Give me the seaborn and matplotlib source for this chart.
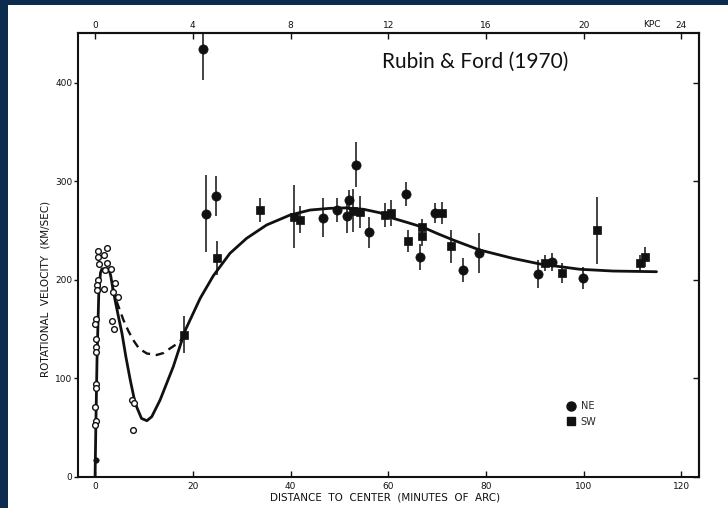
import matplotlib
matplotlib.use("Agg")
import matplotlib.pyplot as plt
import numpy as np
import pandas as pd
import seaborn as sns
from matplotlib.patches import Rectangle
from matplotlib.lines import Line2D

# ---------------- data ----------------
# NE side (filled circles): distance (arcmin), velocity (km/s), error
ne_x = [22.1, 22.7, 24.7, 46.7, 49.6, 51.5, 52.0, 53.5, 56.1, 63.6, 66.6, 69.6,
        75.3, 78.6, 90.7, 93.5, 99.9]
ne_y = [434, 267, 285, 263, 271, 265, 281, 317, 248, 287, 223, 268,
        210, 227, 206, 218, 202]
ne_err = [31, 39, 20, 20, 12, 18, 10, 23, 16, 12, 13, 10,
          12, 20, 14, 9, 11]

# SW side (filled squares)
sw_x = [18.2, 24.9, 33.7, 40.8, 42.0, 52.7, 54.2, 59.4, 60.6, 64.0, 66.9, 66.9,
        71.1, 72.9, 92.0, 95.6, 102.7, 111.5, 112.5]
sw_y = [144, 222, 271, 264, 261, 270, 269, 266, 268, 239, 254, 244,
        268, 234, 217, 207, 250, 217, 223]
sw_err = [19, 17, 12, 32, 14, 22, 16, 12, 13, 11, 8, 10,
          11, 17, 8, 10, 34, 8, 10]

# inner region (open circles)
in_x = [0.5, 2.4, 0.5, 1.8, 0.7, 2.5, 0.5, 0.3, 0.3, 1.9, 2.0, 3.3, 4.1, 3.7,
        4.6, 3.5, 3.9, 0.2, 0.0, 0.2, 0.1, 0.1, 0.1, 0.1, -0.1, 0.2, -0.1,
        7.6, 8.0, 7.7]
in_y = [229.5, 232, 223, 225, 216, 217, 200, 194.6, 189.5, 191, 210, 210.5,
        196.6, 187.8, 182.7, 158, 149.6, 160, 154.5, 139.7, 132, 127, 94, 90,
        71, 56.5, 52.8, 78, 75, 47.3]

# nucleus point (small filled dot)
nuc_x = [0.1]
nuc_y = [17]

# model rotation curve (solid)
solid_x = [0.0, 0.15, 0.4, 0.75, 1.1, 1.4, 2.8, 3.2, 3.6, 4.1, 4.8, 5.5, 6.3,
           7.2, 8.2, 9.5, 10.6, 11.6, 13.3, 16.0, 18.4, 21.5, 24.2, 27.6,
           31.0, 35.1, 39.9, 44.0, 48.0, 51.5, 55.0, 58.3, 61.0, 64.0, 67.1,
           70.0, 73.3, 78.7, 85.5, 91.0, 99.2, 106.0, 114.9]
solid_y = [0, 50, 120, 185, 207, 211, 211, 204, 192, 179, 162, 145.5, 121.7,
           98, 74.4, 59, 56.7, 60.8, 77.7, 111.6, 148, 181, 204, 226.8,
           242, 255.6, 265.7, 270.8, 272.5, 273, 271.5, 268, 262.4, 258, 253.3,
           247, 240.3, 230.2, 221.7, 216, 210.6, 208.8, 208.1]

# alternative inner curve (dashed)
dash_x = [3.6, 4.4, 5.0, 5.8, 6.8, 7.8, 9.0, 10.6, 12.6, 14.0, 15.3, 16.5,
          17.7, 18.4]
dash_y = [192, 178, 170, 159, 148, 138.7, 130, 125, 123.5, 125.5, 130, 134,
          139, 146]

x_ticks = [0, 20, 40, 60, 80, 100, 120]
y_ticks = [0, 100, 200, 300, 400]
kpc_ticks = [0, 4, 8, 12, 16, 20, 24]

# ---------------- figure ----------------
sns.set_theme(style="white")
plt.rcParams['font.family'] = ['DejaVu Sans']

W, H = 728, 508
fig = plt.figure(figsize=(W / 100, H / 100), dpi=100)
fig.patch.set_facecolor('#0c2b4e')
fig.add_artist(Rectangle((8 / W, 0), 1, 1 - 5 / H, transform=fig.transFigure,
                         facecolor='white', edgecolor='none', zorder=0))

ax_l, ax_r, ax_t, ax_b = 77.5, 698.5, 33, 476.5
ax = fig.add_axes([ax_l / W, 1 - ax_b / H, (ax_r - ax_l) / W, (ax_b - ax_t) / H])
ax.set_zorder(1)
ax.set_facecolor('none')

ink = '#111111'

# curves
sns.lineplot(x=solid_x, y=solid_y, sort=False, estimator=None, color=ink,
             lw=2.0, ax=ax, zorder=2)
sns.lineplot(x=dash_x, y=dash_y, sort=False, estimator=None, color=ink,
             lw=1.7, ax=ax, zorder=2)
ax.lines[-1].set_linestyle((0, (3.6, 2.4)))

# error bars
ax.errorbar(ne_x, ne_y, yerr=ne_err, fmt='none', ecolor=ink, elinewidth=1.1,
            capsize=0, zorder=3)
ax.errorbar(sw_x, sw_y, yerr=sw_err, fmt='none', ecolor=ink, elinewidth=1.1,
            capsize=0, zorder=3)

# markers
sns.scatterplot(x=ne_x, y=ne_y, marker='o', s=44, color=ink, edgecolor=ink,
                linewidth=0.5, ax=ax, zorder=4)
sns.scatterplot(x=sw_x, y=sw_y, marker='s', s=36, color=ink, edgecolor=ink,
                linewidth=0.5, ax=ax, zorder=4)
sns.scatterplot(x=in_x, y=in_y, marker='o', s=17, facecolor='white',
                edgecolor=ink, linewidth=1.0, ax=ax, zorder=4)
sns.scatterplot(x=nuc_x, y=nuc_y, marker='o', s=16, color=ink, edgecolor=ink,
                ax=ax, zorder=4)

ax.set_xlim(-3.6, 123.5)
ax.set_ylim(0, 450.7)
ax.set_xlabel('')
ax.set_ylabel('')

for s in ax.spines.values():
    s.set_visible(True)
    s.set_color(ink)
    s.set_linewidth(1.5)

ax.set_xticks(x_ticks)
ax.set_xticklabels([str(v) for v in x_ticks])
ax.set_yticks(y_ticks)
ax.set_yticklabels([str(v) for v in y_ticks])
ax.tick_params(axis='x', bottom=True, direction='in', length=4, width=1,
               pad=4, labelsize=6.5, colors=ink)
ax.tick_params(axis='y', left=True, direction='out', length=3, width=1,
               pad=0.8, labelsize=6.5, colors=ink)

# right inward ticks
secy = ax.secondary_yaxis('right')
secy.set_yticks(y_ticks)
secy.tick_params(direction='in', length=4, width=1, labelright=False, colors=ink)
secy.spines['right'].set_linewidth(1.5)

# top kpc axis
secx = ax.secondary_xaxis('top', functions=(lambda m: np.asarray(m) / 5.0,
                                            lambda k: np.asarray(k) * 5.0))
secx.set_xticks(kpc_ticks)
secx.set_xticklabels([str(v) for v in kpc_ticks])
secx.tick_params(direction='in', length=4, width=1, pad=2.5, labelsize=6.5,
                 colors=ink)
secx.spines['top'].set_linewidth(1.5)
ax.text(114.0, 1.008, 'KPC', transform=ax.get_xaxis_transform(), ha='center',
        va='bottom', fontsize=6.5, color=ink)

# legend
handles = [Line2D([], [], marker='o', ls='none', color=ink, ms=6.5, label='NE'),
           Line2D([], [], marker='s', ls='none', color=ink, ms=5.8, label='SW')]
ax.legend(handles=handles, loc='center left', bbox_to_anchor=(0.787, 0.141),
          frameon=False, fontsize=7, handlelength=1.0, handletextpad=0.5,
          labelspacing=0.55, borderaxespad=0, borderpad=0)

# axis titles
fig.text(46 / W, 1 - 288.5 / H, 'ROTATIONAL  VELOCITY  (KM/SEC)', rotation=90,
         ha='center', va='center', fontsize=7.5, color=ink)
fig.text(385 / W, 1 - 497 / H, 'DISTANCE  TO  CENTER  (MINUTES  OF  ARC)',
         ha='center', va='center', fontsize=7.5, color=ink)

# slide title
fig.text(475.5 / W, 1 - 62 / H, 'Rubin & Ford (1970)', ha='center', va='center',
         fontsize=15, family=['Lato', 'DejaVu Sans'], color='#111111')

fig.savefig('out.png', dpi=100, facecolor=fig.get_facecolor())
